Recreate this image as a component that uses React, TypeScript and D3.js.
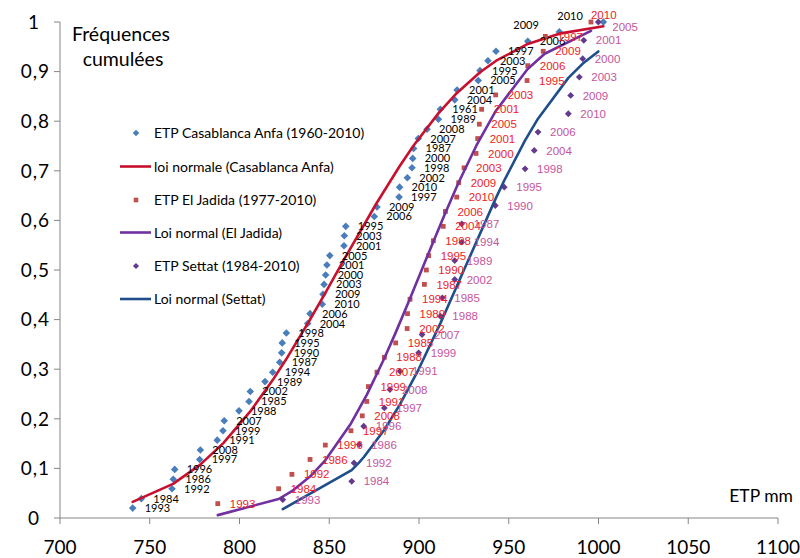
import React from 'react';
import * as d3 from 'd3';

// ---------- data ----------
const casaYears = [1993,1984,1992,1986,1996,1997,2008,1991,1999,2007,1988,1985,2002,1989,1994,1987,1990,1995,1998,2004,2006,2010,2009,2003,2000,2001,2005,2001,2003,1995,2006,2009,1997,2010,2002,1998,2000,1987,2007,2008,1989,1961,2004,2001,2005,1995,2003,1997,2006,2009,2010];
const casaEtp = [740.5,745.3,762.4,763.1,763.9,777.8,778.2,787.6,790.8,791.5,799.7,805.3,806,814.2,818.5,822.4,823.5,823.8,826.1,838,839.3,846.1,846.5,847.1,848,848.7,850.3,858.2,858.4,859.2,875.1,876.6,888.9,889.2,893.5,896.1,896.5,897,899.6,904.5,910.8,911.9,919.9,921.2,933,934,938.4,942.9,960.6,978.2,1002.7];
const casaFreq = [0.020,0.039,0.059,0.078,0.098,0.118,0.137,0.157,0.176,0.196,0.216,0.235,0.255,0.275,0.294,0.314,0.333,0.353,0.373,0.392,0.412,0.431,0.451,0.471,0.490,0.510,0.529,0.549,0.569,0.588,0.608,0.627,0.647,0.667,0.686,0.706,0.725,0.745,0.765,0.784,0.804,0.824,0.843,0.863,0.882,0.902,0.922,0.941,0.961,0.980,1.000];

const jadidaYears = [1993,1984,1992,1986,1996,1997,2008,1991,1999,2007,1988,1985,2002,1989,1994,1987,1990,1995,1998,2004,2006,2010,2009,2003,2000,2001,2005,2001,2003,1995,2006,2009,1997,2010];
const jadidaEtp = [787.9,821.8,829.2,839.3,847.8,862.1,868.4,870.9,871.8,876.6,880.7,887,893.4,893.6,895,903,904.1,905.4,908,913.5,914.7,921,922.1,925.1,931.8,932.7,933.6,934.9,942.7,960.2,960.6,969.2,970.4,995.8];
const jadidaFreq = [0.029,0.059,0.088,0.118,0.147,0.176,0.206,0.235,0.265,0.294,0.324,0.353,0.382,0.412,0.441,0.471,0.500,0.529,0.559,0.588,0.618,0.647,0.676,0.706,0.735,0.765,0.794,0.824,0.853,0.882,0.912,0.941,0.971,1.000];

const settatYears = [1993,1984,1992,1986,1996,1997,2008,1991,1999,2007,1988,1985,2002,1989,1994,1987,1990,1995,1998,2004,2006,2010,2009,2003,2000,2001,2005];
const settatEtp = [824.1,862.5,863.8,866.7,869.2,880.7,883.8,889.4,899.8,901.7,911.9,913,919.9,919.9,923.8,923.8,942.5,947.5,959.1,964.2,966.3,983.2,984.5,989.3,991.2,991.8,999.9];
const settatFreq = [0.037,0.074,0.111,0.148,0.185,0.222,0.259,0.296,0.333,0.370,0.407,0.444,0.481,0.519,0.556,0.593,0.630,0.667,0.704,0.741,0.778,0.815,0.852,0.889,0.926,0.963,1.000];

// fitted normal-law curves (vertices)
const casaLawX = [740.5,763,778,791,806,818.5,826,839,848,859,876,889,897,911,921,934,943,960.6,978.2,1002.7];
const casaLawY = [0.0324,0.0689,0.1071,0.151,0.2148,0.278,0.3199,0.3982,0.455,0.5259,0.6326,0.7082,0.7509,0.8168,0.8565,0.8987,0.922,0.9557,0.9765,0.9914];
const jadidaLawX = [787.9,821.8,829.2,839.3,847.8,862.1,870.9,880.7,887,895,904,914,922,932,942.7,960.4,970,995.8];
const jadidaLawY = [0.0058,0.0383,0.054,0.0835,0.1164,0.1906,0.2483,0.322,0.3737,0.4427,0.5222,0.6094,0.6758,0.7511,0.8202,0.9047,0.936,0.982];
const settatLawX = [824.1,862.5,866.7,869.2,880.7,889.4,899.8,911.9,919.9,923.8,942.5,947.5,959.1,966.3,983.2,991.8,999.9];
const settatLawY = [0.0178,0.0965,0.1122,0.1225,0.178,0.2291,0.2998,0.3924,0.4578,0.49,0.6424,0.6805,0.7612,0.8051,0.8874,0.918,0.9406];

const xTicks = [700,750,800,850,900,950,1000,1050,1100];
const yTicks = [0,0.1,0.2,0.3,0.4,0.5,0.6,0.7,0.8,0.9,1];

const legendLabels = [
  'ETP Casablanca Anfa (1960-2010)',
  'loi normale (Casablanca Anfa)',
  'ETP El Jadida (1977-2010)',
  'Loi normal (El Jadida)',
  'ETP Settat (1984-2010)',
  'Loi normal (Settat)',
];

// ---------- styles ----------
const C_CASA_PT = '#4A7EBB';
const C_CASA_LINE = '#C8102E';
const C_JAD_PT = '#C0504D';
const C_JAD_LINE = '#7030A0';
const C_SET_PT = '#643A8E';
const C_SET_LINE = '#1F4E8A';
const C_JAD_LABEL = '#EE1C25';
const C_SET_LABEL = '#C4559E';
const AXIS = '#868686';
const CAL = 'Lato, "Open Sans", sans-serif';
const ARIAL = '"Liberation Sans", Arial, sans-serif';

// manual label offsets (moved labels in the original)
const labelShift: Record<string, [number, number]> = {
  'casa-49': [-46, -7],
  'casa-50': [-46, -6],
  'jadida-33': [0, -7],
  'settat-26': [14, 5],
};

const diamond = (r: number) => `M0,${-r}L${r},0L0,${r}L${-r},0Z`;

export default function App() {
  const W = 800, H = 558;
  const x = d3.scaleLinear().domain([700, 1100]).range([60, 778]);
  const y = d3.scaleLinear().domain([0, 1]).range([518, 22]);
  const line = d3.line<[number, number]>().x(d => x(d[0])).y(d => y(d[1]));

  const casaLaw = casaLawX.map((v, i) => [v, casaLawY[i]] as [number, number]);
  const jadLaw = jadidaLawX.map((v, i) => [v, jadidaLawY[i]] as [number, number]);
  const setLaw = settatLawX.map((v, i) => [v, settatLawY[i]] as [number, number]);

  const fmtY = (v: number) => (v === 0 ? '0' : v === 1 ? '1' : d3.format('.1f')(v).replace('.', ','));

  const labels = (key: string, etp: number[], freq: number[], years: number[], color: string, font: string, size: number) =>
    etp.map((v, i) => {
      const s = labelShift[`${key}-${i}`] || [12, 0];
      return (
        <text key={`${key}l${i}`} x={x(v) + s[0]} y={y(freq[i]) + s[1]} dy="0.36em"
          fill={color} fontFamily={font} fontSize={size}>{years[i]}</text>
      );
    });

  const legendY = [133, 166.5, 200, 232.5, 266, 299];

  return (
    <svg width={W} height={H} style={{ position: 'absolute', left: 0, top: 0, background: '#fff' }}
      xmlns="http://www.w3.org/2000/svg">
      <rect x={0} y={0} width={W} height={H} fill="#fff" />

      {/* axes */}
      <line x1={x(700)} x2={x(700)} y1={y(0)} y2={y(1)} stroke={AXIS} strokeWidth={1} />
      <line x1={x(700)} x2={x(1100)} y1={y(0)} y2={y(0)} stroke={AXIS} strokeWidth={1} />
      {yTicks.map(t => (
        <g key={`yt${t}`}>
          <line x1={x(700) - 6} x2={x(700)} y1={y(t)} y2={y(t)} stroke={AXIS} />
          <text x={t === 0 || t === 1 ? 40 : 50} y={y(t)} dy="0.36em" textAnchor="end"
            fontFamily={CAL} fontSize={19} fill="#000" letterSpacing={1}>{fmtY(t)}</text>
        </g>
      ))}
      {xTicks.map(t => (
        <g key={`xt${t}`}>
          <line x1={x(t)} x2={x(t)} y1={y(0)} y2={y(0) + 6} stroke={AXIS} />
          <text x={x(t)} y={547} dy="0.36em" textAnchor="middle"
            fontFamily={CAL} fontSize={19} fill="#000">{t}</text>
        </g>
      ))}

      {/* axis titles */}
      <text x={121} y={41} textAnchor="middle" fontFamily={CAL} fontSize={19.5} fill="#000">Fréquences</text>
      <text x={123} y={66} textAnchor="middle" fontFamily={CAL} fontSize={19.5} fill="#000">cumulées</text>
      <text x={793} y={496} dy="0.36em" textAnchor="end" fontFamily={CAL} fontSize={17.5} fill="#000">ETP mm</text>

      {/* series */}
      {casaEtp.map((v, i) => (
        <path key={`cp${i}`} d={diamond(3.8)} transform={`translate(${x(v)},${y(casaFreq[i])})`} fill={C_CASA_PT} />
      ))}
      <path d={line(casaLaw) || ''} fill="none" stroke={C_CASA_LINE} strokeWidth={2.6} strokeLinejoin="round" strokeLinecap="round" />
      {jadidaEtp.map((v, i) => (
        <rect key={`jp${i}`} x={x(v) - 2.4} y={y(jadidaFreq[i]) - 2.4} width={4.8} height={4.8} fill={C_JAD_PT} />
      ))}
      <path d={line(jadLaw) || ''} fill="none" stroke={C_JAD_LINE} strokeWidth={2.6} strokeLinejoin="round" strokeLinecap="round" />
      {settatEtp.map((v, i) => (
        <path key={`sp${i}`} d={diamond(3.4)} transform={`translate(${x(v)},${y(settatFreq[i])})`} fill={C_SET_PT} />
      ))}
      <path d={line(setLaw) || ''} fill="none" stroke={C_SET_LINE} strokeWidth={2.6} strokeLinejoin="round" strokeLinecap="round" />

      {/* data labels */}
      {labels('casa', casaEtp, casaFreq, casaYears, '#000', CAL, 11)}
      {labels('jadida', jadidaEtp, jadidaFreq, jadidaYears, C_JAD_LABEL, ARIAL, 11.5)}
      {labels('settat', settatEtp, settatFreq, settatYears, C_SET_LABEL, ARIAL, 11.5)}

      {/* legend */}
      <path d={diamond(3.3)} transform={`translate(136,${legendY[0]})`} fill={C_CASA_PT} />
      <line x1={120} x2={151} y1={legendY[1]} y2={legendY[1]} stroke={C_CASA_LINE} strokeWidth={2.6} />
      <rect x={133.7} y={legendY[2] - 2.3} width={4.6} height={4.6} fill={C_JAD_PT} />
      <line x1={120} x2={151} y1={legendY[3]} y2={legendY[3]} stroke={C_JAD_LINE} strokeWidth={2.6} />
      <path d={diamond(3.1)} transform={`translate(136,${legendY[4]})`} fill={C_SET_PT} />
      <line x1={120} x2={151} y1={legendY[5]} y2={legendY[5]} stroke={C_SET_LINE} strokeWidth={2.6} />
      {legendLabels.map((t, i) => (
        <text key={`lg${i}`} x={154} y={legendY[i]} dy="0.36em" fontFamily={CAL} fontSize={14} fill="#000">{t}</text>
      ))}
    </svg>
  );
}
